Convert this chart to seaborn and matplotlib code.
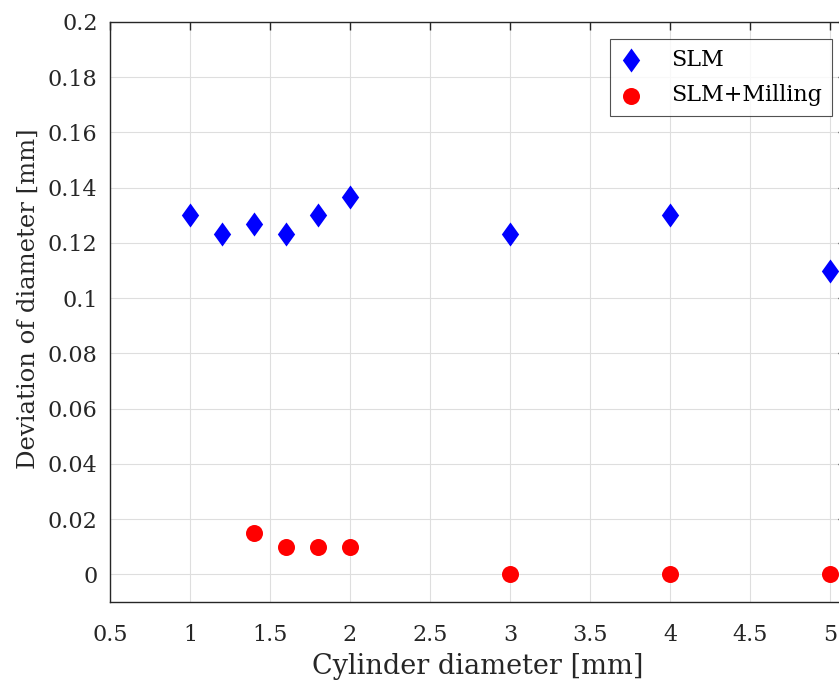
import numpy as np
import pandas as pd
import matplotlib
matplotlib.use("Agg")
import matplotlib.pyplot as plt
from matplotlib.ticker import FuncFormatter, MultipleLocator
import seaborn as sns

# data
slm_x = [1, 1.2, 1.4, 1.6, 1.8, 2, 3, 4, 5]
slm_y = [0.13, 0.1233, 0.1267, 0.1233, 0.13, 0.1367, 0.1233, 0.13, 0.11]
mill_x = [1.4, 1.6, 1.8, 2, 3, 4, 5]
mill_y = [0.015, 0.01, 0.01, 0.01, 0, 0, 0]

sns.set_style("white")
plt.rcParams['font.family'] = ['DejaVu Serif']

df_slm = pd.DataFrame({'x': slm_x, 'y': slm_y})
df_mill = pd.DataFrame({'x': mill_x, 'y': mill_y})

fig = plt.figure(figsize=(8.39, 6.82), dpi=100)
W, H = 839, 682
# axes runs past the right edge of the picture (cropped like the reference)
ax_right = 846
ax = fig.add_axes([110 / W, (H - 602) / H, (ax_right - 110) / W, (602 - 22) / H])

# MATLAB-like diamond (taller than wide)
diamond = [(0, 1), (0.72, 0), (0, -1), (-0.72, 0), (0, 1)]

sns.scatterplot(data=df_slm, x='x', y='y', ax=ax, marker=diamond, s=300,
                color=(0, 0, 1), edgecolor=(0, 0, 1), linewidth=0, label='SLM',
                clip_on=False, zorder=3)
sns.scatterplot(data=df_mill, x='x', y='y', ax=ax, marker='o', s=150,
                color=(1, 0, 0), edgecolor=(1, 0, 0), linewidth=0, label='SLM+Milling',
                clip_on=False, zorder=3)

ax.set_xlim(0.5, 0.5 + (ax_right - 110) / 160)
ax.set_ylim(-0.01, 0.2)
ax.xaxis.set_major_locator(MultipleLocator(0.5))
ax.yaxis.set_major_locator(MultipleLocator(0.02))
fmt = FuncFormatter(lambda v, p: f"{round(v, 4):g}")
ax.xaxis.set_major_formatter(fmt)
ax.yaxis.set_major_formatter(fmt)

dark = (0.15, 0.15, 0.15)
ax.grid(True, color=(0.87, 0.87, 0.87), linewidth=0.8)
ax.set_axisbelow(True)
for s in ax.spines.values():
    s.set_color(dark)
    s.set_linewidth(1.0)
ax.tick_params(direction='in', length=6, width=1.0, colors=dark,
               labelsize=16, top=True, right=True)
ax.tick_params(axis='x', pad=16)
ax.tick_params(axis='y', pad=9)

ax.set_xlabel("Cylinder diameter [mm]", fontsize=19.5, color=dark, labelpad=5)
ax.set_ylabel("Deviation of diameter [mm]", fontsize=17.5, color=dark)
ax.yaxis.set_label_coords((40 - 110) / (ax_right - 110), (602 - 299) / 580)

leg = ax.legend(loc='upper right', bbox_to_anchor=(832 / W, (H - 39) / H),
                bbox_transform=fig.transFigure, fontsize=16, frameon=True,
                fancybox=False, edgecolor=dark, borderpad=0.45, borderaxespad=0,
                handlelength=1.0, handletextpad=1.3, labelspacing=0.6,
                markerscale=1.0)
leg.get_frame().set_linewidth(0.8)
for t in leg.get_texts():
    t.set_color('black')

fig.savefig("out.png", dpi=100)
